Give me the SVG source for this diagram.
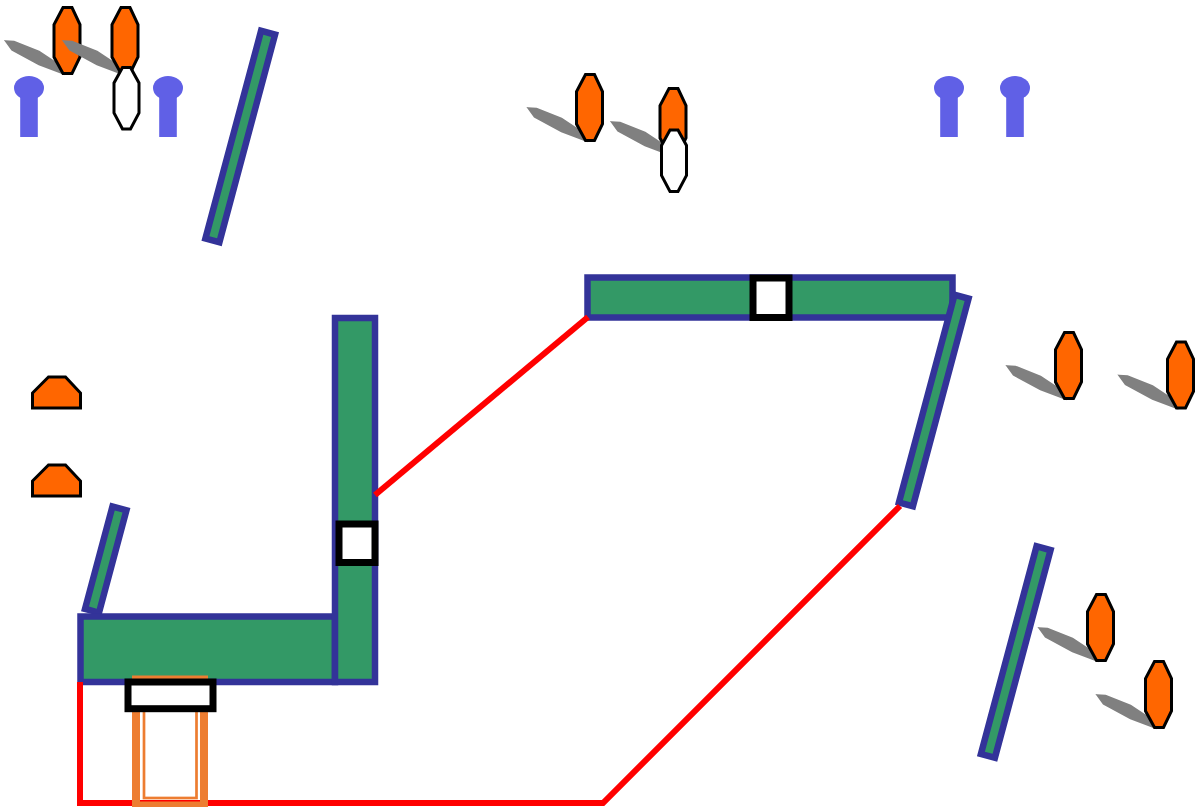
<svg xmlns="http://www.w3.org/2000/svg" width="1195" height="807" viewBox="0 0 1195 807">
<style>
.bar{fill:#339966;stroke:#333399;stroke-width:6.5}
.wall{fill:#339966;stroke:#333399;stroke-width:6.5}
.box{fill:#fff;stroke:#000;stroke-width:7}
.wire{fill:none;stroke:#f00;stroke-width:6}
.oct{stroke:#000;stroke-width:3;stroke-linejoin:miter}
.org{fill:#f60}
.wht{fill:#fff}
.leaf{fill:#808080;stroke:#808080;stroke-width:1.6}
.pin{fill:#6060e6}
.tube{fill:none;stroke:#ed7d31}
</style>
<defs>
<polygon id="o" points="9,0.5 18,0.5 26,17.5 26,50 18,66.5 9,66.5 0,50 0,17.5"/>
<polygon id="w" points="8.5,0.5 16.5,0.5 25,16 25,46 16.5,62 8.5,62 0,46 0,16"/>
<polygon id="l" points="-48.5,34 -40,34.5 -15,44.5 1,55 9,66.5 -15,57.5 -42,43"/>
<g id="p"><ellipse cx="0" cy="0" rx="15" ry="12"/><rect x="-8.8" y="4" width="17.6" height="45"/></g>
<polygon id="t" points="0,16 16,0 33,0 48,16 48,31 0,31"/>
</defs>
<g id="wall-top-left"><rect class="wall" x="-7" y="-107.5" width="14.5" height="215" transform="translate(240 136.5) rotate(15)"/></g>
<g id="wall-short"><rect class="wall" x="-7" y="-53" width="14.5" height="106" transform="translate(105.5 559.5) rotate(15)"/></g>
<g id="wall-lower-right"><rect class="wall" x="-7" y="-107.5" width="14.5" height="215" transform="translate(1015.5 652) rotate(15)"/></g>
<g id="bar-top"><rect class="bar" x="587.5" y="277.5" width="365" height="40"/></g>
<g id="wall-right"><rect class="wall" x="-7" y="-107.5" width="14.5" height="215" transform="translate(933.5 400.5) rotate(15)"/></g>
<g id="bar-bottom"><rect class="bar" x="80.5" y="616.5" width="254.5" height="65.5"/></g>
<g id="bar-vertical"><rect class="bar" x="335" y="318" width="40" height="364"/></g>
<g id="connectors">
<polyline class="wire" points="80,682 80,803 603,803 900,506"/>
<line class="wire" x1="375" y1="495" x2="588" y2="317"/>
</g>
<g id="tube">
<rect class="tube" stroke-width="8" x="136" y="679.5" width="68" height="126"/>
<rect class="tube" stroke-width="2.7" x="144" y="700" width="52.5" height="98"/>
</g>
<g id="gate-bottom"><rect class="box" x="128" y="682" width="85" height="26.7"/></g>
<g id="gate-vertical"><rect class="box" x="339" y="524" width="36" height="38.5"/></g>
<g id="gate-top"><rect class="box" x="753" y="278" width="36" height="39.5"/></g>
<g id="pin-1"><use href="#p" class="pin" x="29" y="88"/></g>
<g id="pin-2"><use href="#p" class="pin" x="168" y="88"/></g>
<g id="pin-3"><use href="#p" class="pin" x="949" y="88"/></g>
<g id="pin-4"><use href="#p" class="pin" x="1015" y="88"/></g>
<g id="lamp-1"><use href="#l" class="leaf" x="54" y="7"/><use href="#o" class="oct org" x="54" y="7"/></g>
<g id="lamp-2"><use href="#l" class="leaf" x="112" y="7"/><use href="#o" class="oct org" x="112" y="7"/><use href="#w" class="oct wht" x="114" y="67"/></g>
<g id="lamp-3"><use href="#l" class="leaf" x="576.5" y="74"/><use href="#o" class="oct org" x="576.5" y="74"/></g>
<g id="lamp-4"><use href="#l" class="leaf" x="660" y="88"/><use href="#o" class="oct org" x="660" y="88"/><use href="#w" class="oct wht" x="661.5" y="129.5"/></g>
<g id="lamp-5"><use href="#l" class="leaf" x="1055.5" y="332"/><use href="#o" class="oct org" x="1055.5" y="332"/></g>
<g id="lamp-6"><use href="#l" class="leaf" x="1167.5" y="341.5"/><use href="#o" class="oct org" x="1167.5" y="341.5"/></g>
<g id="lamp-7"><use href="#l" class="leaf" x="1087.5" y="594"/><use href="#o" class="oct org" x="1087.5" y="594"/></g>
<g id="lamp-8"><use href="#l" class="leaf" x="1145.5" y="661"/><use href="#o" class="oct org" x="1145.5" y="661"/></g>
<g id="cap-1"><use href="#t" class="oct org" x="32.5" y="377"/></g>
<g id="cap-2"><use href="#t" class="oct org" x="32.5" y="465"/></g>
</svg>
